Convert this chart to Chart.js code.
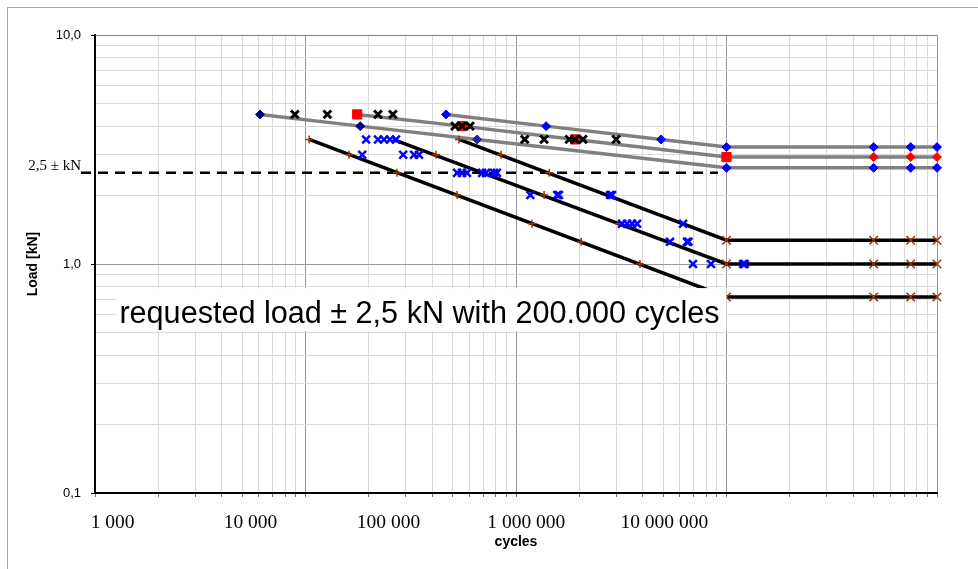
<!DOCTYPE html>
<html>
<head>
<meta charset="utf-8">
<script src="https://cdn.jsdelivr.net/npm/chart.js@4.4.1/dist/chart.umd.min.js"></script>
<style>
  html, body { margin: 0; padding: 0; background: #fff; overflow: hidden; }
  #wrap { position: relative; width: 978px; height: 569px; }
  #frame { position: absolute; left: 7px; top: 7px; width: 1000px; height: 600px; border: 1px solid #a6a6a6; }
  #c { position: absolute; left: 0; top: 0; }
</style>
</head>
<body>
<div id="wrap"><div id="frame"></div><canvas id="c" width="978" height="569"></canvas></div>
<script>
// ---- data (cycles, load kN) ----
var grayTopX = [4.65e5, 1.39e6, 4.89e6, 1e7, 5e7, 7.5e7, 1e8];
var grayTopY = [4.5, 4.0, 3.5, 3.24, 3.24, 3.24, 3.24];
var grayMidX = [1.76e5, 5.54e5, 1.91e6, 1e7, 5e7, 7.5e7, 1e8];
var grayMidY = [4.5, 4.0, 3.5, 2.93, 2.93, 2.93, 2.93];
var grayLowX = [6.08e4, 1.82e5, 6.53e5, 1e7, 5e7, 7.5e7, 1e8];
var grayLowY = [4.5, 4.0, 3.5, 2.63, 2.63, 2.63, 2.63];

var blackTopX = [5.36e5, 1e7, 1e8];
var blackTopY = [3.5, 1.27, 1.27];
var blackMidX = [2.6e5, 1e7, 1e8];
var blackMidY = [3.5, 1.0, 1.0];
var blackLowX = [1.04e5, 1e7, 1e8];
var blackLowY = [3.5, 0.718, 0.718];

// brown "+" : tested points on the black curves
var plusX = [1.04e5, 1.61e5, 2.72e5, 5.25e5, 1.19e6, 2.04e6, 3.88e6, 4.17e5, 1.36e6, 3.09e6, 5.36e5, 8.49e5, 1.44e6];
var plusY = [3.5, 3.0, 2.5, 2.0, 1.5, 1.25, 1.0, 3.0, 2.0, 1.5, 3.5, 3.0, 2.5];

// brown "x" : run-outs on the flat parts
var runX = [1e7, 5e7, 7.5e7, 1e8, 1e7, 5e7, 7.5e7, 1e8, 1e7, 5e7, 7.5e7, 1e8];
var runY = [1.27, 1.27, 1.27, 1.27, 1.0, 1.0, 1.0, 1.0, 0.718, 0.718, 0.718, 0.718];

// black "x"
var blkX = [8.9e4, 1.27e5, 2.21e5, 2.6e5, 5.13e5, 5.54e5, 6.05e5, 1.10e6, 1.36e6, 1.79e6, 1.91e6, 2.08e6, 2.99e6];
var blkY = [4.5, 4.5, 4.5, 4.5, 4.0, 4.0, 4.0, 3.5, 3.5, 3.5, 3.5, 3.5, 3.5];

// blue "x"
var bluX = [1.94e5, 2.21e5, 2.36e5, 2.52e5, 2.69e5,
            1.86e5, 2.91e5, 3.28e5, 3.46e5,
            5.25e5, 5.54e5, 5.85e5, 6.9e5, 7.2e5, 7.86e5, 8.12e5,
            1.17e6, 1.57e6, 1.6e6, 2.8e6, 2.86e6,
            3.19e6, 3.37e6, 3.56e6, 3.76e6, 6.22e6,
            5.39e6, 6.49e6, 6.6e6,
            6.93e6, 8.44e6, 1.2e7, 1.22e7];
var bluY = [3.5, 3.5, 3.5, 3.5, 3.5,
            3.0, 3.0, 3.0, 3.0,
            2.5, 2.5, 2.5, 2.5, 2.5, 2.5, 2.5,
            2.0, 2.0, 2.0, 2.0, 2.0,
            1.5, 1.5, 1.5, 1.5, 1.5,
            1.25, 1.25, 1.25,
            1.0, 1.0, 1.0, 1.0];

// dashed reference load
var refX = [8.58e3, 9.1e6];
var refY = [2.5, 2.5];

// note box corners (data coords) and text
var noteX = [1.25e4, 1e7];
var noteY = [0.785, 0.51];
var noteText = 'requested load \u00b1 2,5 kN with 200.000 cycles';

// axes
var xDecades = [1e4, 1e5, 1e6, 1e7];
var yDecades = [0.1, 1];
var steps = [1, 2, 3, 4, 5, 6, 7, 8, 9];
var labelTicks = [1e3, 1e4, 1e5, 1e6, 1e7];
var yLabels = { '10': '10,0', '2.5': ['2,5 \u00b1 kN', ''], '1': '1,0', '0.1': '0,1' };

function pts(xs, ys) {
  return xs.map(function(x, i) { return { x: x, y: ys[i] }; });
}
function logTicks(decades, last) {
  var t = [];
  decades.forEach(function(d) {
    steps.forEach(function(s) { t.push(+(d * s).toPrecision(6)); });
  });
  t.push(last);
  return t;
}
function isDecade(v) {
  var l = Math.log10(v);
  return Math.abs(l - Math.round(l)) < 1e-9;
}
function fmt(v) {
  return String(Math.round(v)).replace(/\B(?=(\d{3})+(?!\d))/g, ' ');
}

var xGrid = logTicks(xDecades, 1e8);
var yGrid = logTicks(yDecades, 10).concat([2.5]).sort(function(a, b) { return a - b; });

var noteBox = {
  id: 'noteBox',
  afterDatasetsDraw: function(chart) {
    var xs = chart.scales.x, ys = chart.scales.y, ctx = chart.ctx;
    var l = xs.getPixelForValue(noteX[0]), r = xs.getPixelForValue(noteX[1]);
    var t = ys.getPixelForValue(noteY[0]), b = ys.getPixelForValue(noteY[1]);
    ctx.save();
    ctx.fillStyle = '#fff';
    ctx.fillRect(l, t, r - l, b - t);
    ctx.fillStyle = '#000';
    ctx.font = '30.6px "Liberation Sans", Arial, sans-serif';
    ctx.textBaseline = 'alphabetic';
    ctx.fillText(noteText, l + 4, b - 8);
    ctx.restore();
  }
};

var navy = '#000080', blue = '#0000ff', red = '#ff0000', brown = '#993300', grey = '#808080';

new Chart(document.getElementById('c'), {
  type: 'scatter',
  data: {
    datasets: [
      { data: pts(blkX, blkY), pointStyle: 'crossRot', pointRadius: 5.5, borderColor: '#000', borderWidth: 3, order: 1, clip: false },
      { data: pts(bluX, bluY), pointStyle: 'crossRot', pointRadius: 5.5, borderColor: blue, borderWidth: 2.5, order: 1, clip: false },
      { data: pts(plusX, plusY), pointStyle: 'cross', pointRadius: 4, borderColor: brown, borderWidth: 1.5, order: 1, clip: false },
      { data: pts(runX, runY), pointStyle: 'crossRot', pointRadius: 6, borderColor: brown, borderWidth: 1.5, order: 1, clip: false },
      { data: pts(grayTopX, grayTopY), showLine: true, borderColor: grey, borderWidth: 3.5,
        pointStyle: 'rectRot', pointRadius: 4.5, pointBackgroundColor: blue, pointBorderColor: blue, pointBorderWidth: 1, order: 2, clip: false },
      { data: pts(grayMidX, grayMidY), showLine: true, borderColor: grey, borderWidth: 3.5,
        pointStyle: ['rect', 'rect', 'rect', 'rect', 'rectRot', 'rectRot', 'rectRot'],
        pointRadius: [6.5, 6.5, 6.5, 6.5, 4.5, 4.5, 4.5], pointBackgroundColor: red, pointBorderColor: red, pointBorderWidth: 1, order: 2, clip: false },
      { data: pts(grayLowX, grayLowY), showLine: true, borderColor: grey, borderWidth: 3.5,
        pointStyle: 'rectRot', pointRadius: 4.5,
        pointBackgroundColor: [navy, navy, '#2020a0', blue, blue, blue, blue],
        pointBorderColor: [navy, navy, '#2020a0', blue, blue, blue, blue], pointBorderWidth: 1, order: 2, clip: false },
      { data: pts(blackTopX, blackTopY), showLine: true, borderColor: '#000', borderWidth: 3.5, pointRadius: 0, order: 3, clip: false },
      { data: pts(blackMidX, blackMidY), showLine: true, borderColor: '#000', borderWidth: 3.5, pointRadius: 0, order: 3, clip: false },
      { data: pts(blackLowX, blackLowY), showLine: true, borderColor: '#000', borderWidth: 3.5, pointRadius: 0, order: 3, clip: false },
      { data: pts(refX, refY), showLine: true, borderColor: '#000', borderWidth: 2.5, borderDash: [10, 7], pointRadius: 0, order: 3, clip: false }
    ]
  },
  options: {
    responsive: false,
    animation: false,
    events: [],
    layout: { padding: { left: 0, top: 35, right: 41, bottom: 14 } },
    plugins: { legend: { display: false }, tooltip: { enabled: false } },
    scales: {
      x: {
        type: 'logarithmic', position: 'bottom', min: 1e4, max: 1e8,
        afterBuildTicks: function(s) { s.ticks = xGrid.map(function(v) { return { value: v }; }); },
        afterFit: function(s) { s.height = 4; },
        ticks: { display: false },
        grid: {
          color: function(c) { return c.tick && isDecade(c.tick.value) ? '#999999' : '#d9d9d9'; },
          tickLength: 4, tickColor: '#777'
        },
        border: { color: '#000', width: 2 }
      },
      xl: {
        type: 'logarithmic', position: 'bottom', min: 745, max: 9.5e8,
        afterBuildTicks: function(s) { s.ticks = labelTicks.map(function(v) { return { value: v }; }); },
        afterFit: function(s) { s.height = 58; },
        grid: { display: false },
        border: { display: false },
        ticks: {
          autoSkip: false, maxRotation: 0, padding: 6, color: '#000',
          font: { family: '"Liberation Serif", "Times New Roman", serif', size: 19.5 },
          callback: function(v) { return fmt(v); }
        },
        title: {
          display: true, text: 'cycles', color: '#000', padding: { top: 4, bottom: 4 },
          font: { family: '"Liberation Sans", Arial, sans-serif', size: 14, weight: 'bold' }
        }
      },
      y: {
        type: 'logarithmic', position: 'left', min: 0.1, max: 10,
        afterBuildTicks: function(s) { s.ticks = yGrid.map(function(v) { return { value: v }; }); },
        afterFit: function(s) { s.width = 95; },
        ticks: {
          autoSkip: false, padding: 10, color: '#000',
          font: function(c) {
            if (c.tick && c.tick.value === 2.5) {
              return { family: '"Liberation Serif", "Times New Roman", serif', size: 15, lineHeight: 0.9 };
            }
            return { family: '"Liberation Sans", Arial, sans-serif', size: 13 };
          },
          callback: function(v) { return yLabels[String(v)] || ''; }
        },
        grid: {
          color: function(c) {
            var v = c.tick && c.tick.value;
            if (v === 2.5) return 'rgba(0,0,0,0)';
            if (v === 10) return grey;
            if (v === 1) return '#999999';
            return '#d9d9d9';
          },
          tickLength: 4,
          tickColor: function(c) {
            var v = c.tick && c.tick.value;
            return (v === 10 || v === 1 || v === 0.1) ? '#000' : 'rgba(0,0,0,0)';
          }
        },
        border: { color: '#000', width: 2 },
        title: {
          display: true, text: 'Load [kN]', color: '#000', padding: { top: 25, bottom: 0 },
          font: { family: '"Liberation Sans", Arial, sans-serif', size: 14, weight: 'bold' }
        }
      }
    }
  },
  plugins: [noteBox]
});
</script>
</body>
</html>
